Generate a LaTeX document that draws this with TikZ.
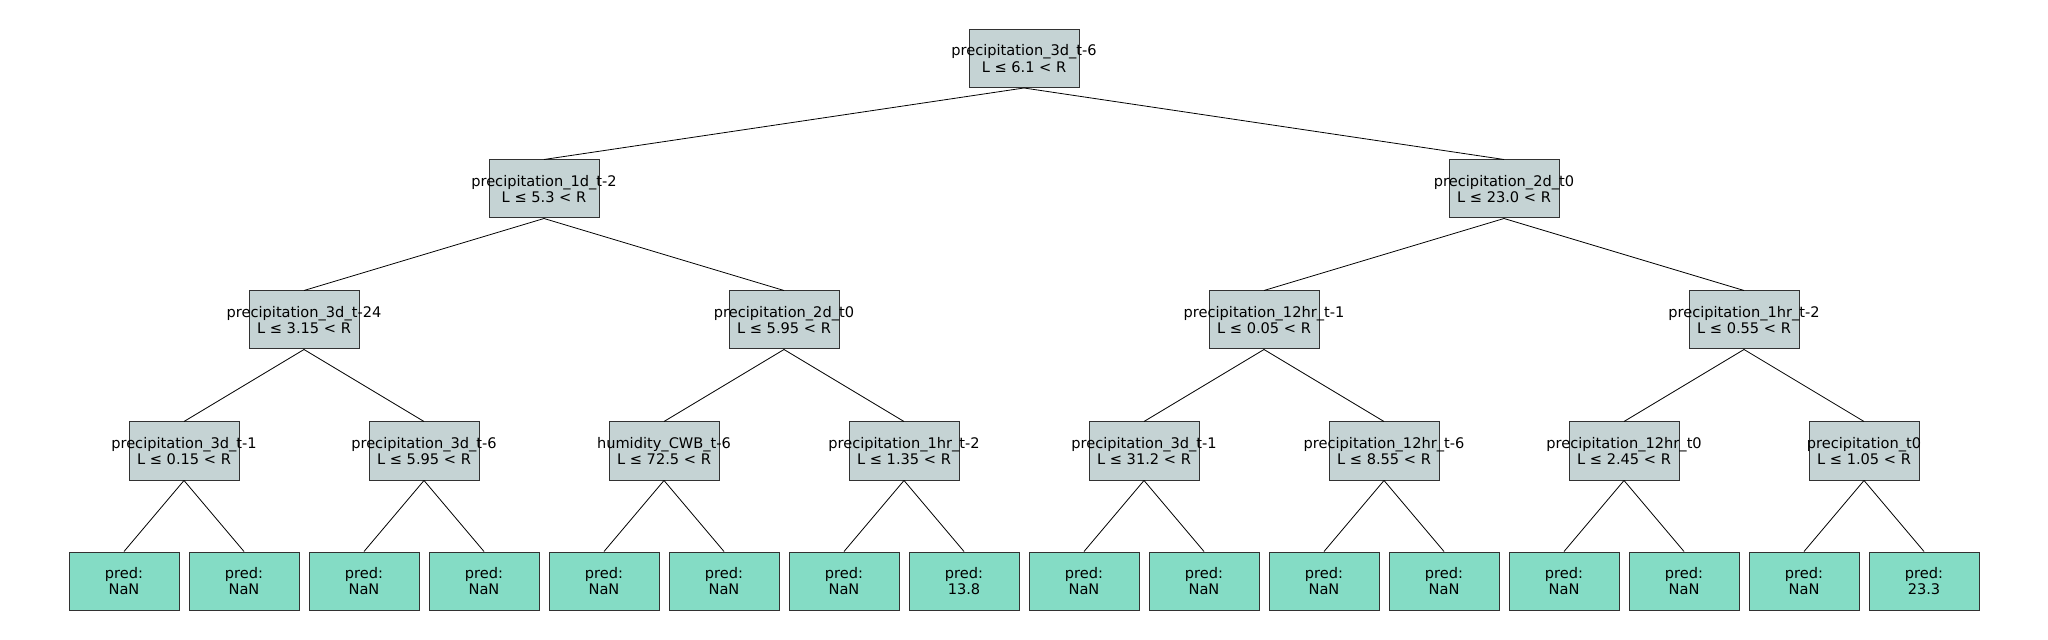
\documentclass[tikz,border=0pt]{standalone}
\usepackage{fontspec}
\setmainfont{DejaVu Sans}
\usepackage{tikz}
\definecolor{splitfill}{RGB}{197,211,212}
\definecolor{leaffill}{RGB}{132,220,197}
\definecolor{boxline}{RGB}{50,50,50}
\newcommand{\splittxt}[2]{\makebox[0pt]{#1}\\\makebox[0pt]{L ≤ #2 < R}}
\newcommand{\predtxt}[1]{\makebox[0pt]{pred:}\\\makebox[0pt]{#1}}
\tikzset{
  treebox/.style={draw=boxline,line width=0.5pt,rectangle,inner sep=0pt,
    minimum width=55pt,minimum height=29pt,align=center,
    font=\fontsize{7.3}{8.2}\selectfont},
  splitbox/.style={treebox,fill=splitfill},
  leafbox/.style={treebox,fill=leaffill},
}
\begin{document}
\begin{tikzpicture}[x=0.5pt,y=-0.5pt]
    \useasboundingbox (0,0) rectangle (2048,640);
    % splits
    \node[splitbox] (root) at (1024,58.5) {\splittxt{precipitation\_3d\_t-6}{6.1}};
    \node[splitbox] (l) at (544,189) {\splittxt{precipitation\_1d\_t-2}{5.3}};
    \node[splitbox] (r) at (1504,189) {\splittxt{precipitation\_2d\_t0}{23.0}};
    \node[splitbox] (ll) at (304,320) {\splittxt{precipitation\_3d\_t-24}{3.15}};
    \node[splitbox] (lr) at (784,320) {\splittxt{precipitation\_2d\_t0}{5.95}};
    \node[splitbox] (rl) at (1264,320) {\splittxt{precipitation\_12hr\_t-1}{0.05}};
    \node[splitbox] (rr) at (1744,320) {\splittxt{precipitation\_1hr\_t-2}{0.55}};
    \node[splitbox] (lll) at (184,451) {\splittxt{precipitation\_3d\_t-1}{0.15}};
    \node[splitbox] (llr) at (424,451) {\splittxt{precipitation\_3d\_t-6}{5.95}};
    \node[splitbox] (lrl) at (664,451) {\splittxt{humidity\_CWB\_t-6}{72.5}};
    \node[splitbox] (lrr) at (904,451) {\splittxt{precipitation\_1hr\_t-2}{1.35}};
    \node[splitbox] (rll) at (1144,451) {\splittxt{precipitation\_3d\_t-1}{31.2}};
    \node[splitbox] (rlr) at (1384,451) {\splittxt{precipitation\_12hr\_t-6}{8.55}};
    \node[splitbox] (rrl) at (1624,451) {\splittxt{precipitation\_12hr\_t0}{2.45}};
    \node[splitbox] (rrr) at (1864,451) {\splittxt{precipitation\_t0}{1.05}};
    % leaves
    \node[leafbox] (p1) at (124,581) {\predtxt{NaN}};
    \node[leafbox] (p2) at (244,581) {\predtxt{NaN}};
    \node[leafbox] (p3) at (364,581) {\predtxt{NaN}};
    \node[leafbox] (p4) at (484,581) {\predtxt{NaN}};
    \node[leafbox] (p5) at (604,581) {\predtxt{NaN}};
    \node[leafbox] (p6) at (724,581) {\predtxt{NaN}};
    \node[leafbox] (p7) at (844,581) {\predtxt{NaN}};
    \node[leafbox] (p8) at (964,581) {\predtxt{13.8}};
    \node[leafbox] (p9) at (1084,581) {\predtxt{NaN}};
    \node[leafbox] (p10) at (1204,581) {\predtxt{NaN}};
    \node[leafbox] (p11) at (1324,581) {\predtxt{NaN}};
    \node[leafbox] (p12) at (1444,581) {\predtxt{NaN}};
    \node[leafbox] (p13) at (1564,581) {\predtxt{NaN}};
    \node[leafbox] (p14) at (1684,581) {\predtxt{NaN}};
    \node[leafbox] (p15) at (1804,581) {\predtxt{NaN}};
    \node[leafbox] (p16) at (1924,581) {\predtxt{23.3}};
    % edges
    \draw (root.south) -- (l.north);
    \draw (root.south) -- (r.north);
    \draw (l.south) -- (ll.north);
    \draw (l.south) -- (lr.north);
    \draw (r.south) -- (rl.north);
    \draw (r.south) -- (rr.north);
    \draw (ll.south) -- (lll.north);
    \draw (ll.south) -- (llr.north);
    \draw (lr.south) -- (lrl.north);
    \draw (lr.south) -- (lrr.north);
    \draw (rl.south) -- (rll.north);
    \draw (rl.south) -- (rlr.north);
    \draw (rr.south) -- (rrl.north);
    \draw (rr.south) -- (rrr.north);
    \draw (lll.south) -- (p1.north);
    \draw (lll.south) -- (p2.north);
    \draw (llr.south) -- (p3.north);
    \draw (llr.south) -- (p4.north);
    \draw (lrl.south) -- (p5.north);
    \draw (lrl.south) -- (p6.north);
    \draw (lrr.south) -- (p7.north);
    \draw (lrr.south) -- (p8.north);
    \draw (rll.south) -- (p9.north);
    \draw (rll.south) -- (p10.north);
    \draw (rlr.south) -- (p11.north);
    \draw (rlr.south) -- (p12.north);
    \draw (rrl.south) -- (p13.north);
    \draw (rrl.south) -- (p14.north);
    \draw (rrr.south) -- (p15.north);
    \draw (rrr.south) -- (p16.north);
\end{tikzpicture}
\end{document}
